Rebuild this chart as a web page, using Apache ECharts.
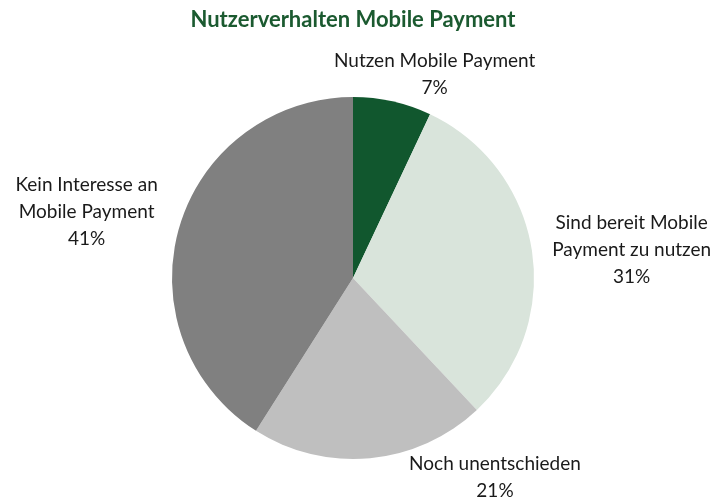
<!DOCTYPE html>
<html><head><meta charset="utf-8">
<script src="https://cdn.jsdelivr.net/npm/echarts@6/dist/echarts.min.js"></script>
<style>html,body{margin:0;padding:0;background:#fff}#c{width:723px;height:500px}</style>
</head><body><div id="c"></div>
<script>
const categories = ['Nutzen Mobile Payment', 'Sind bereit Mobile\nPayment zu nutzen', 'Noch unentschieden', 'Kein Interesse an\nMobile Payment'];
const values = [7, 31, 21, 41];
const colors = ['#11572E', '#D9E4DB', '#BFBFBF', '#808080'];
const labelShift = [[35, -17], [85, 2], [119, 9], [-78, -13]];

const chart = echarts.init(document.getElementById('c'));
chart.setOption({
  animation: false,
  title: {
    text: 'Nutzerverhalten Mobile Payment',
    left: 348, top: 4, textAlign: 'center',
    textStyle: { color: '#1B5A30', fontSize: 22, fontWeight: 'bold', fontFamily: 'Lato' }
  },
  series: [{
    type: 'pie',
    center: [353, 278],
    radius: 181,
    startAngle: 90,
    clockwise: true,
    data: categories.map((c, i) => ({ name: c, value: values[i], itemStyle: { color: colors[i] } })),
    label: {
      show: true, position: 'outside', alignTo: 'none',
      formatter: '{b}\n{d}%',
      color: '#1a1a1a', fontSize: 19, fontFamily: 'Lato', lineHeight: 27, align: 'center'
    },
    labelLine: { show: false, length: 10, length2: 0 },
    labelLayout: function (p) {
      const s = labelShift[p.dataIndex];
      return { dx: s[0], dy: s[1], align: 'center', verticalAlign: 'middle' };
    }
  }]
});
</script></body></html>
